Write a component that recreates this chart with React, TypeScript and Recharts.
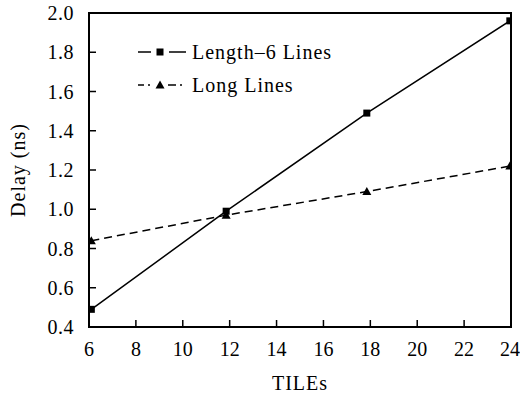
import React, { useEffect, useRef } from 'react';
import { LineChart, Line, XAxis, YAxis, ReferenceArea } from 'recharts';

const tileX = [6.1, 11.85, 17.85, 23.95];
const length6Lines = [0.49, 0.99, 1.49, 1.96];
const longLines = [0.84, 0.97, 1.09, 1.22];
const xTicks = [6, 8, 10, 12, 14, 16, 18, 20, 22, 24];
const yTicks = [0.4, 0.6, 0.8, 1.0, 1.2, 1.4, 1.6, 1.8, 2.0];
const seriesNames = ['Length\u20136 Lines', 'Long Lines'];

const data = tileX.map((x, i) => ({ x, a: length6Lines[i], b: longLines[i] }));

const FONT = 'Liberation Serif';
const FONT_STACK = "'Liberation Serif', Tinos, 'Times New Roman', serif";

const SquareDot = (props: any) => {
  const { cx, cy } = props;
  if (cx == null || cy == null) return null;
  return <rect x={cx - 3.5} y={cy - 3.5} width={7} height={7} fill="#000" />;
};

const TriDot = (props: any) => {
  const { cx, cy } = props;
  if (cx == null || cy == null) return null;
  return <polygon points={`${cx},${cy - 4.5} ${cx - 4.5},${cy + 3.5} ${cx + 4.5},${cy + 3.5}`} fill="#000" />;
};

const LegendBox = () => (
  <svg width={220} height={70} style={{ position: 'absolute', left: 136, top: 40, overflow: 'visible' }}>
    <g>
      <line x1={2} y1={12} x2={15} y2={12} stroke="#000" strokeWidth={1.5} />
      <rect x={20.5} y={8.5} width={7} height={7} fill="#000" />
      <line x1={33} y1={12} x2={50} y2={12} stroke="#000" strokeWidth={1.5} />
      <text x={56} y={18.5} fontFamily={FONT} fontSize={20} letterSpacing={1} fill="#000">{seriesNames[0]}</text>
    </g>
    <g>
      <line x1={2} y1={45} x2={8} y2={45} stroke="#000" strokeWidth={1.5} />
      <line x1={12} y1={45} x2={14} y2={45} stroke="#000" strokeWidth={1.5} />
      <polygon points="24,40.5 19.5,48.5 28.5,48.5" fill="#000" />
      <line x1={32} y1={45} x2={40} y2={45} stroke="#000" strokeWidth={1.5} />
      <line x1={44} y1={45} x2={46} y2={45} stroke="#000" strokeWidth={1.5} />
      <text x={56} y={51.5} fontFamily={FONT} fontSize={20} letterSpacing={1} fill="#000">{seriesNames[1]}</text>
    </g>
  </svg>
);

export default function App() {
  const rootRef = useRef<HTMLDivElement>(null);
  useEffect(() => {
    const root = rootRef.current;
    if (!root) return;
    const apply = () => {
      root.querySelectorAll('text, tspan').forEach((el: any) => {
        if (el.style.getPropertyValue('font-family') !== FONT_STACK) {
          el.style.setProperty('font-family', FONT_STACK, 'important');
        }
      });
    };
    apply();
    const obs = new MutationObserver(apply);
    obs.observe(root, { childList: true, subtree: true });
    return () => obs.disconnect();
  }, []);
  return (
    <div ref={rootRef} style={{ position: 'absolute', left: 0, top: 0, width: 520, height: 394, background: '#fff', fontFamily: FONT_STACK }}>
      <LineChart width={520} height={394} data={data} margin={{ top: 13, right: 9, bottom: 0, left: 0 }}>
        <XAxis
          dataKey="x"
          type="number"
          domain={[6, 24]}
          ticks={xTicks}
          allowDataOverflow
          height={67}
          axisLine={{ stroke: '#000', strokeWidth: 2 }}
          tickLine={{ stroke: '#000', strokeWidth: 1.5 }}
          tickSize={-7}
          tickMargin={22}
          tick={{ fill: '#000', fontSize: 20, fontFamily: FONT }}
          label={{ value: 'TILEs', position: 'insideBottom', offset: 4, fill: '#000', fontSize: 20, fontFamily: FONT, letterSpacing: 1 }}
        />
        <YAxis
          type="number"
          domain={[0.4, 2.0]}
          ticks={yTicks}
          allowDataOverflow
          width={89}
          axisLine={{ stroke: '#000', strokeWidth: 2 }}
          tickLine={{ stroke: '#000', strokeWidth: 1.5 }}
          tickSize={-7}
          tickMargin={22}
          tickFormatter={(v: number) => v.toFixed(1)}
          tick={{ fill: '#000', fontSize: 20, fontFamily: FONT, letterSpacing: 0.5 }}
          label={{ value: 'Delay (ns)', angle: -90, position: 'insideLeft', offset: 18, fill: '#000', fontSize: 20, fontFamily: FONT, letterSpacing: 1, style: { textAnchor: 'middle' } }}
        />
        <ReferenceArea x1={6} x2={24} y1={0.4} y2={2.0} fill="none" stroke="#000" strokeWidth={2} ifOverflow="visible" />
        <Line dataKey="a" name={seriesNames[0]} stroke="#000" strokeWidth={1.5} dot={<SquareDot />} activeDot={false} isAnimationActive={false} />
        <Line dataKey="b" name={seriesNames[1]} stroke="#000" strokeWidth={1.5} strokeDasharray="8 5" dot={<TriDot />} activeDot={false} isAnimationActive={false} />
      </LineChart>
      <LegendBox />
    </div>
  );
}
